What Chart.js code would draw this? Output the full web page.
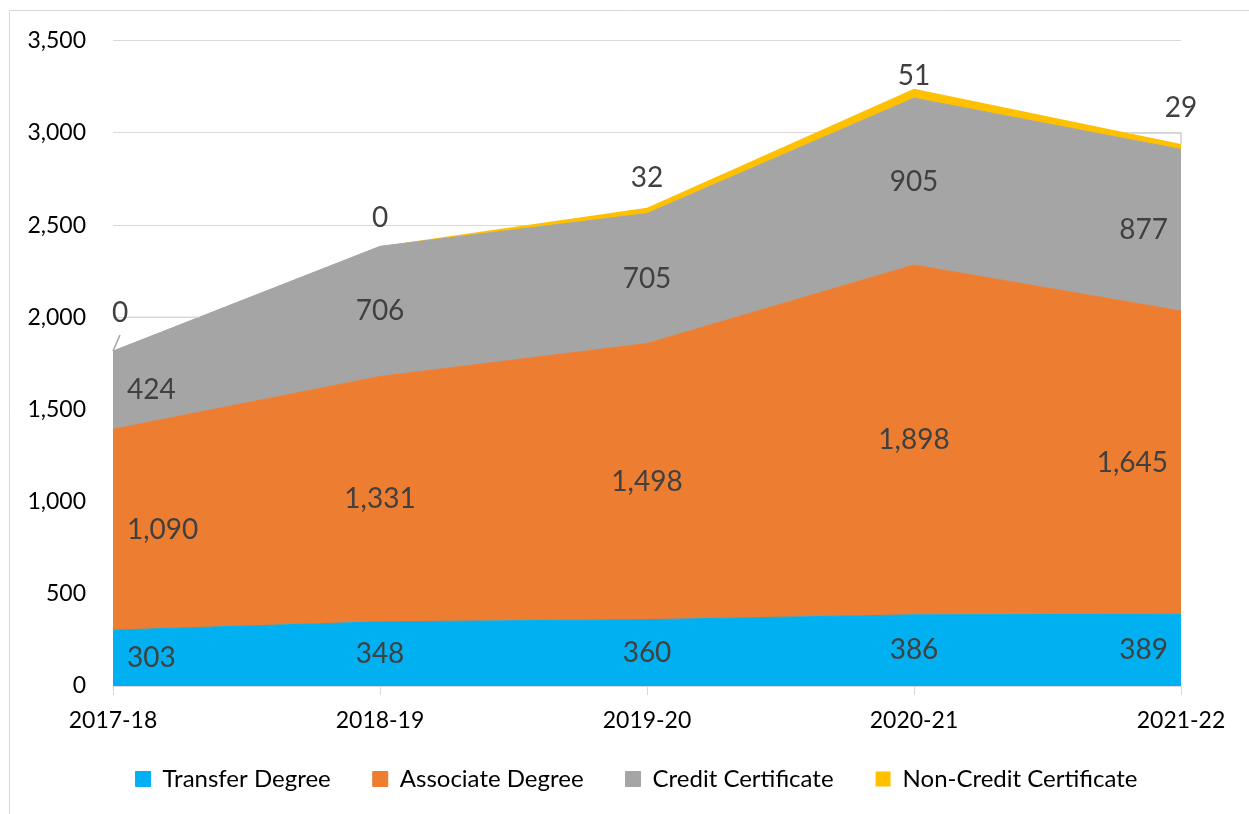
<!DOCTYPE html>
<html>
<head>
<meta charset="utf-8">
<script src="https://cdn.jsdelivr.net/npm/chart.js@4.4.0/dist/chart.umd.min.js"></script>
<style>
  body { margin: 0; background: #fff; }
  #wrap { width: 1249px; height: 814px; position: relative; }
</style>
</head>
<body>
<div id="wrap"><canvas id="myChart"></canvas></div>
<script>
// data
const years = ['2017-18', '2018-19', '2019-20', '2020-21', '2021-22'];
const transferDegree = [303, 348, 360, 386, 389];
const associateDegree = [1090, 1331, 1498, 1898, 1645];
const creditCertificate = [424, 706, 705, 905, 877];
const nonCreditCertificate = [0, 0, 32, 51, 29];
const yTicks = [0, 500, 1000, 1500, 2000, 2500, 3000, 3500];

const FONT = 'Lato, "Open Sans", sans-serif';

// frame around the whole picture
const framePlugin = {
    id: 'frame',
    beforeDraw(chart) {
        const ctx = chart.ctx;
        ctx.save();
        ctx.strokeStyle = '#d9d9d9';
        ctx.lineWidth = 1;
        ctx.beginPath();
        ctx.moveTo(9.5, 814);
        ctx.lineTo(9.5, 10.5);
        ctx.lineTo(1249, 10.5);
        ctx.stroke();
        ctx.restore();
    }
};

// nudge the legend so it sits where excel put it
const legendShift = {
    id: 'legendShift',
    afterLayout(chart) {
        const lg = chart.legend;
        if (!lg) return;
        lg.left += 36; lg.right += 36;
        lg.top -= 13; lg.bottom -= 13;
    }
};

// value labels, like excel's data labels
const labelPlugin = {
    id: 'areaLabels',
    afterDatasetsDraw(chart) {
        const ctx = chart.ctx;
        const y = chart.scales.y;
        const n = years.length;
        ctx.save();
        ctx.font = '28px ' + FONT;
        ctx.fillStyle = '#404040';
        ctx.textBaseline = 'middle';

        const base = new Array(n).fill(0);
        for (let d = 0; d < 3; d++) {
            const ds = chart.data.datasets[d];
            const meta = chart.getDatasetMeta(d);
            ds.data.forEach((v, i) => {
                const px = meta.data[i].x;
                const py = (y.getPixelForValue(base[i]) + y.getPixelForValue(base[i] + v)) / 2;
                let x = px;
                ctx.textAlign = 'center';
                if (i === 0) { ctx.textAlign = 'left'; x = px + 14; }
                if (i === n - 1) { ctx.textAlign = 'right'; x = px - 13; }
                ctx.fillText(v.toLocaleString('en-US'), x, py);
                base[i] += v;
            });
        }

        // non-credit labels sit above the stack
        const meta3 = chart.getDatasetMeta(3);
        const dx = [7, 0, 0, 0, 0];
        const dy = [-38, -28, -30, -13, -36];
        ctx.textAlign = 'center';
        nonCreditCertificate.forEach((v, i) => {
            const pt = meta3.data[i];
            ctx.fillText(v.toLocaleString('en-US'), pt.x + dx[i], pt.y + dy[i]);
        });

        // leader lines for the first and last ones
        ctx.strokeStyle = '#a6a6a6';
        ctx.lineWidth = 1.5;
        let p = meta3.data[0];
        ctx.beginPath();
        ctx.moveTo(p.x + 7, p.y - 16);
        ctx.lineTo(p.x, p.y);
        ctx.stroke();
        // faint horizontal part, stops where the grey area starts
        const p1 = meta3.data[1];
        const ly = p.y + dy[0] + 4;
        const edgeX = p.x + (p.y - ly) / (p.y - p1.y) * (p1.x - p.x);
        ctx.strokeStyle = '#d9d9d9';
        ctx.lineWidth = 1;
        ctx.beginPath();
        ctx.moveTo(p.x + 15, ly);
        ctx.lineTo(edgeX, ly);
        ctx.stroke();

        p = meta3.data[n - 1];
        ctx.strokeStyle = '#d0d0d0';
        ctx.lineWidth = 1.5;
        ctx.beginPath();
        ctx.moveTo(p.x - 50, p.y - 11);
        ctx.lineTo(p.x, p.y - 11);
        ctx.lineTo(p.x, p.y);
        ctx.stroke();
        ctx.restore();
    }
};

const ctx = document.getElementById('myChart').getContext('2d');

window.myChart = new Chart(ctx, {
    type: 'line',
    data: {
        labels: years,
        datasets: [{
            label: 'Transfer Degree',
            data: transferDegree,
            backgroundColor: '#00B0F0',
            borderColor: '#00B0F0',
            borderWidth: 1,
            fill: 'origin'
        }, {
            label: 'Associate Degree',
            data: associateDegree,
            backgroundColor: '#ED7D31',
            borderColor: '#ED7D31',
            borderWidth: 1,
            fill: '-1'
        }, {
            label: 'Credit Certificate',
            data: creditCertificate,
            backgroundColor: '#A5A5A5',
            borderColor: '#A5A5A5',
            borderWidth: 1,
            fill: '-1'
        }, {
            label: 'Non-Credit Certificate',
            data: nonCreditCertificate,
            backgroundColor: '#FFC000',
            borderColor: '#FFC000',
            borderWidth: 0,
            fill: '-1'
        }]
    },
    options: {
        responsive: true,
        maintainAspectRatio: false,
        animation: false,
        elements: { point: { radius: 0, hoverRadius: 0 }, line: { tension: 0 } },
        layout: { padding: { left: 20, right: 68, top: 40, bottom: 0 } },
        plugins: {
            tooltip: { enabled: false },
            legend: {
                position: 'bottom',
                labels: {
                    font: { family: FONT, size: 24 },
                    color: '#000',
                    boxWidth: 15,
                    boxHeight: 15,
                    padding: 42
                }
            }
        },
        scales: {
            x: {
                offset: false,
                grid: {
                    drawOnChartArea: false,
                    drawTicks: true,
                    tickLength: 9,
                    color: '#d9d9d9'
                },
                border: { color: '#d9d9d9' },
                ticks: {
                    font: { family: FONT, size: 23 },
                    color: '#000',
                    padding: 12,
                    maxRotation: 0
                },
                afterFit(scale) {
                    scale.paddingLeft = 0;
                    scale.paddingRight = 0;
                    scale.height = 52;
                }
            },
            y: {
                stacked: true,
                min: 0,
                max: 3500,
                afterBuildTicks(scale) {
                    scale.ticks = yTicks.map(v => ({ value: v }));
                },
                grid: { drawTicks: false, color: '#d9d9d9' },
                border: { display: false },
                ticks: {
                    font: { family: FONT, size: 23 },
                    color: '#000',
                    padding: 27,
                    callback: v => v.toLocaleString('en-US')
                },
                afterFit(scale) {
                    scale.width = 93;
                }
            }
        }
    },
    plugins: [framePlugin, legendShift, labelPlugin]
});
</script>
</body>
</html>
